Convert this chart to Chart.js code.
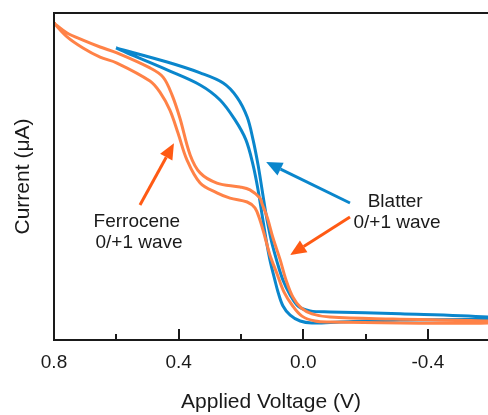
<!DOCTYPE html>
<html>
<head>
<meta charset="utf-8">
<script src="https://cdn.jsdelivr.net/npm/chart.js@4/dist/chart.umd.min.js"></script>
<style>
  body { margin:0; background:#fff; }
  canvas { display:block; }
</style>
</head>
<body>
<canvas id="cv" width="488" height="415"></canvas>
<script>
// — Ferrocene loop (V, current in µA, arbitrary scale) —
const ferroFwdV = [0.800,0.758,0.707,0.652,0.598,0.492,0.450,0.421,0.396,0.363,0.331,0.277,0.203,0.171,0.139,0.132,0.116,0.097,0.074,0.055,0.033,0.007,-0.028,-0.086,-0.288,-0.593];
const ferroFwdI = [9.69,9.39,9.17,8.96,8.78,8.32,8.04,7.49,6.79,5.66,5.11,4.80,4.68,4.59,4.34,4.16,3.76,3.12,2.45,1.83,1.31,0.98,0.80,0.70,0.64,0.58];
const ferroRevV = [-0.593,-0.311,-0.086,-0.038,0.004,0.036,0.062,0.084,0.107,0.123,0.139,0.155,0.180,0.235,0.277,0.331,0.373,0.402,0.428,0.460,0.492,0.598,0.652,0.707,0.758,0.800];
const ferroRevI = [0.52,0.52,0.55,0.58,0.73,1.07,1.47,2.02,2.60,3.15,3.67,4.04,4.22,4.34,4.50,4.80,5.50,6.33,7.03,7.58,7.92,8.47,8.65,8.93,9.27,9.69];

// — Blatter loop —
const blatFwdV = [0.601,0.437,0.331,0.257,0.213,0.180,0.161,0.145,0.132,0.119,0.103,0.084,0.065,0.042,0.017,-0.022,-0.086,-0.311,-0.593];
const blatFwdI = [8.93,8.50,8.17,7.86,7.43,6.82,6.12,5.35,4.59,3.82,3.06,2.39,1.83,1.38,1.04,0.89,0.86,0.80,0.70];
const blatRevV = [-0.593,-0.311,-0.118,-0.028,0.010,0.042,0.065,0.081,0.091,0.107,0.119,0.132,0.145,0.161,0.184,0.219,0.267,0.331,0.437,0.566,0.601];
const blatRevI = [0.64,0.61,0.55,0.52,0.58,0.76,1.04,1.47,1.83,2.45,3.06,3.82,4.59,5.35,6.12,6.73,7.34,7.80,8.26,8.78,8.93];

// — Axis ticks —
const tickValues = [0.8,0.6,0.4,0.2,0.0,-0.2,-0.4];
const tickLabels = ['0.8','','0.4','','0.0','','-0.4'];
const majorTicks = [0.8,0.4,0.0,-0.4];
const minorTicks = [0.6,0.2,-0.2];

// — Annotations (in data coords) —
const notes = [
  { text:'Ferrocene', v:0.534, i:3.61 },
  { text:'0/+1 wave', v:0.527, i:2.97 },
  { text:'Blatter',   v:-0.295, i:4.22 },
  { text:'0/+1 wave', v:-0.301, i:3.58 }
];
const arrows = [
  { from:[0.524,4.13],  to:[0.415,6.02], color:'#ff5a14' },
  { from:[-0.150,4.19], to:[0.119,5.44], color:'#0a86cc' },
  { from:[-0.150,3.76], to:[0.042,2.60], color:'#ff5a14' }
];

const ORANGE = '#ff8247';
const BLUE   = '#0a86cc';
const FONT   = "'Liberation Sans', Arial, sans-serif";

const pts = (vs, is) => vs.map((v, k) => ({ x:v, y:is[k] }));

const framePlugin = {
  id:'frame',
  afterDraw(chart) {
    const { ctx, chartArea:a, scales:{ x, y } } = chart;
    ctx.save();
    // frame: left, top, bottom
    ctx.strokeStyle = '#1a1a1a';
    ctx.lineWidth = 2;
    ctx.beginPath();
    ctx.moveTo(a.left, a.bottom); ctx.lineTo(a.left, a.top); ctx.lineTo(chart.width, a.top);
    ctx.moveTo(a.left - 1, a.bottom); ctx.lineTo(chart.width, a.bottom);
    ctx.stroke();
    // inward ticks
    const tick = (v, len) => {
      const px = Math.round(x.getPixelForValue(v));
      ctx.beginPath(); ctx.moveTo(px, a.bottom); ctx.lineTo(px, a.bottom - len); ctx.stroke();
    };
    majorTicks.forEach(v => tick(v, 11));
    minorTicks.forEach(v => tick(v, 6));

    // arrows
    arrows.forEach(ar => {
      const x0 = x.getPixelForValue(ar.from[0]), y0 = y.getPixelForValue(ar.from[1]);
      const x1 = x.getPixelForValue(ar.to[0]),   y1 = y.getPixelForValue(ar.to[1]);
      const ang = Math.atan2(y1 - y0, x1 - x0);
      const hl = 16, hw = 7;
      const bx = x1 - hl * Math.cos(ang), by = y1 - hl * Math.sin(ang);
      ctx.strokeStyle = ar.color; ctx.fillStyle = ar.color; ctx.lineWidth = 3;
      ctx.beginPath(); ctx.moveTo(x0, y0); ctx.lineTo(bx, by); ctx.stroke();
      ctx.beginPath();
      ctx.moveTo(x1, y1);
      ctx.lineTo(bx + hw * Math.sin(ang), by - hw * Math.cos(ang));
      ctx.lineTo(bx - hw * Math.sin(ang), by + hw * Math.cos(ang));
      ctx.closePath(); ctx.fill();
    });

    // labels
    ctx.fillStyle = '#1a1a1a';
    ctx.font = '19px ' + FONT;
    ctx.textAlign = 'center'; ctx.textBaseline = 'middle';
    notes.forEach(n => ctx.fillText(n.text, x.getPixelForValue(n.v), y.getPixelForValue(n.i)));
    ctx.restore();
  }
};

new Chart(document.getElementById('cv'), {
  type:'scatter',
  data:{
    datasets:[
      { label:'Ferrocene', data:pts(ferroFwdV.concat(ferroRevV), ferroFwdI.concat(ferroRevI)),
        borderColor:ORANGE, borderWidth:3, showLine:true, pointRadius:0, tension:0.35 },
      { label:'Blatter', data:pts(blatFwdV.concat(blatRevV), blatFwdI.concat(blatRevI)),
        borderColor:BLUE, borderWidth:3, showLine:true, pointRadius:0, tension:0.35 }
    ]
  },
  options:{
    responsive:false,
    animation:false,
    devicePixelRatio:1,
    layout:{ padding:{ top:13, right:0, left:0, bottom:0 } },
    plugins:{ legend:{ display:false }, tooltip:{ enabled:false } },
    scales:{
      x:{
        type:'linear', reverse:true, min:-0.593, max:0.8,
        grid:{ display:false }, border:{ display:false },
        afterBuildTicks: s => { s.ticks = tickValues.map(v => ({ value:v })); },
        afterFit: s => { s.height = 75; },
        ticks:{ autoSkip:false, maxRotation:0, padding:3, color:'#1a1a1a',
                font:{ family:FONT, size:19 },
                callback:(v, idx) => tickLabels[idx] },
        title:{ display:true, text:'Applied Voltage (V)', color:'#1a1a1a',
                font:{ family:FONT, size:21 }, padding:{ top:-2, bottom:0 } }
      },
      y:{
        min:0, max:10,
        grid:{ display:false }, border:{ display:false },
        ticks:{ display:false },
        afterFit: s => { s.width = 54; },
        title:{ display:true, text:'Current (μA)', color:'#1a1a1a',
                font:{ family:FONT, size:21 }, padding:{ top:11, bottom:0 } }
      }
    }
  },
  plugins:[framePlugin]
});
</script>
</body>
</html>
